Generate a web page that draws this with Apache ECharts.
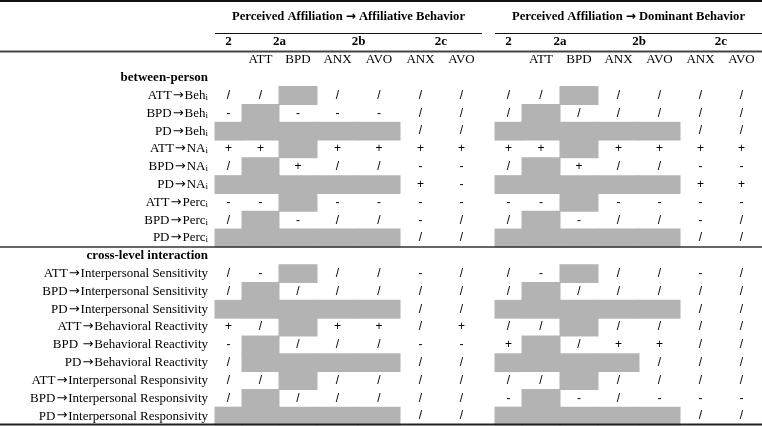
<!DOCTYPE html>
<html><head><meta charset="utf-8">
<script src="https://cdn.jsdelivr.net/npm/echarts@6/dist/echarts.min.js"></script>
<style>html,body{margin:0;padding:0;background:#fff}#c{width:762px;height:426px}</style>
</head><body><div id="c"></div>
<script>
// ---------- data ----------
const titles = ['Perceived Affiliation \u2192 Affiliative Behavior', 'Perceived Affiliation \u2192 Dominant Behavior'];
const hypotheses = ['2', '2a', '2b', '2c'];
const subColumns = ['', 'ATT', 'BPD', 'ANX', 'AVO', 'ANX', 'AVO'];
const sections = ['between-person', 'cross-level interaction'];
const betweenRows = ['ATT\u2192Beh_i', 'BPD\u2192Beh_i', 'PD\u2192Beh_i', 'ATT\u2192NA_i', 'BPD\u2192NA_i', 'PD\u2192NA_i', 'ATT\u2192Perc_i', 'BPD\u2192Perc_i', 'PD\u2192Perc_i'];
const crossRows = ['ATT\u2192Interpersonal Sensitivity', 'BPD\u2192Interpersonal Sensitivity', 'PD\u2192Interpersonal Sensitivity', 'ATT\u2192Behavioral Reactivity', 'BPD \u2192Behavioral Reactivity', 'PD\u2192Behavioral Reactivity', 'ATT\u2192Interpersonal Responsivity', 'BPD\u2192Interpersonal Responsivity', 'PD\u2192Interpersonal Responsivity'];
// G = grey cell (not applicable)
const affiliativeBetween = [
  ['/','/','G','/','/','/','/'],
  ['-','G','-','-','-','/','/'],
  ['G','G','G','G','G','/','/'],
  ['+','+','G','+','+','+','+'],
  ['/','G','+','/','/','-','-'],
  ['G','G','G','G','G','+','-'],
  ['-','-','G','-','-','-','-'],
  ['/','G','-','/','/','-','/'],
  ['G','G','G','G','G','/','/']
];
const dominantBetween = [
  ['/','/','G','/','/','/','/'],
  ['/','G','/','/','/','/','/'],
  ['G','G','G','G','G','/','/'],
  ['+','+','G','+','+','+','+'],
  ['/','G','+','/','/','-','-'],
  ['G','G','G','G','G','+','+'],
  ['-','-','G','-','-','-','-'],
  ['/','G','-','/','/','-','/'],
  ['G','G','G','G','G','/','/']
];
const affiliativeCross = [
  ['/','-','G','/','/','-','/'],
  ['/','G','/','/','/','/','/'],
  ['G','G','G','G','G','/','/'],
  ['+','/','G','+','+','/','+'],
  ['-','G','/','/','/','-','-'],
  ['/','G','G','G','G','/','/'],
  ['/','/','G','/','/','/','/'],
  ['/','G','/','/','/','/','/'],
  ['G','G','G','G','G','/','/']
];
const dominantCross = [
  ['/','-','G','/','/','-','/'],
  ['/','G','/','/','/','/','/'],
  ['G','G','G','G','G','/','/'],
  ['/','/','G','/','/','/','/'],
  ['+','G','/','+','+','/','/'],
  ['G','G','G','G','/','/','/'],
  ['/','/','G','/','/','/','/'],
  ['-','G','-','/','-','-','-'],
  ['G','G','G','G','G','/','/']
];

// ---------- layout ----------
const LAYOUT = {
  colEdges: [[215,242,279,317,358,400,441,482],[495,522,560,598,639,680,721,762]],
  hypSpans: [[0,1],[1,3],[3,5],[5,7]],
  grey: '#b3b3b3',
  serif: '"Liberation Serif", "Times New Roman", serif',
  sans: '"Liberation Sans", Arial, sans-serif',
  arrow: '"DejaVu Sans", sans-serif'
};

const rowCats = ['', sections[0]].concat(betweenRows, [sections[1]], crossRows);
const groups = [[affiliativeBetween, affiliativeCross], [dominantBetween, dominantCross]];

const cellData = [];
groups.forEach((g, gi) => {
  g[0].forEach((row, ri) => row.forEach((s, ci) => cellData.push({value: [gi * 7 + ci, 2 + ri], sym: s})));
  g[1].forEach((row, ri) => row.forEach((s, ci) => cellData.push({value: [gi * 7 + ci, 12 + ri], sym: s})));
});
const subData = [];
[0, 1].forEach(gi => subColumns.forEach((s, ci) => { if (s) subData.push({value: [gi * 7 + ci, 0], sym: s}); }));

function cellBox(api, col, row) {
  const g = Math.floor(col / 7), c = col % 7;
  const E = LAYOUT.colEdges[g];
  const x0 = api.coord([E[c], row])[0];
  const x1 = api.coord([E[c + 1], row])[0];
  const yc = api.coord([E[c], row])[1];
  const h = api.size([0, 1])[1];
  return {x0, x1, yc, h};
}

function renderCell(params, api) {
  const d = cellData[params.dataIndex];
  const b = cellBox(api, api.value(0), api.value(1));
  if (d.sym === 'G') {
    return {type: 'rect', shape: {x: b.x0 - 0.5, y: b.yc - b.h / 2 - 0.5, width: b.x1 - b.x0 + 1, height: b.h + 1},
      style: {fill: LAYOUT.grey}};
  }
  return {type: 'text', x: (b.x0 + b.x1) / 2, y: b.yc,
    style: {text: d.sym, align: 'center', verticalAlign: 'middle', fontSize: 12, fontFamily: LAYOUT.sans, fill: '#000'}};
}
function renderSub(params, api) {
  const d = subData[params.dataIndex];
  const b = cellBox(api, api.value(0), api.value(1));
  return {type: 'text', x: (b.x0 + b.x1) / 2, y: b.yc,
    style: {text: d.sym, align: 'center', verticalAlign: 'middle', fontSize: 13, fontFamily: LAYOUT.serif, fill: '#000'}};
}

// header graphics
const graphics = [];
const hline = (x1, x2, y, w, c) => graphics.push({type: 'line', shape: {x1, y1: y, x2, y2: y}, style: {stroke: c, lineWidth: w}, z: 10});
hline(0, 762, 1, 2, '#111');
hline(0, 762, 51.5, 2, '#444');
hline(0, 762, 247, 1.5, '#333');
hline(0, 762, 424.5, 2, '#222');
const titleRich = {
  t: {fontSize: 12.6, fontWeight: 'bold', fontFamily: LAYOUT.serif, fill: '#000', color: '#000'},
  arr: {fontSize: 12, fontWeight: 'bold', fontFamily: LAYOUT.arrow, fill: '#000', color: '#000'}
};
LAYOUT.colEdges.forEach((E, gi) => {
  const parts = titles[gi].split(' \u2192 ');
  graphics.push({type: 'text', x: (E[0] + E[7]) / 2, y: 17,
    style: {text: '{t|' + parts[0] + ' }{arr|\u2192}{t| ' + parts[1] + '}', rich: titleRich,
      align: 'center', verticalAlign: 'middle', fontSize: 12.6, fontWeight: 'bold', fontFamily: LAYOUT.serif, fill: '#000'}});
  hline(E[0], E[7], 33.5, 1, '#111');
  hypotheses.forEach((h, hi) => {
    const sp = LAYOUT.hypSpans[hi];
    graphics.push({type: 'text', x: (E[sp[0]] + E[sp[1]]) / 2, y: 42,
      style: {text: h, align: 'center', verticalAlign: 'middle', fontSize: 13, fontWeight: 'bold', fontFamily: LAYOUT.serif, fill: '#000'}});
  });
});

function fmtLabel(v) {
  if (sections.indexOf(v) >= 0) return '{b|' + v + '}';
  let s = v.endsWith('_i') ? v.slice(0, -2) : v;
  const sub = v.endsWith('_i') ? '{sub|i}' : '';
  const k = s.indexOf('\u2192');
  if (k >= 0) s = '{t|' + s.slice(0, k) + '}{arr|\u2192}{t|' + s.slice(k + 1) + '}';
  return s + sub;
}

const chart = echarts.init(document.getElementById('c'), null, {renderer: 'canvas'});
chart.setOption({
  animation: false,
  backgroundColor: '#fff',
  grid: {left: 215, right: 0, top: 51, height: 374},
  xAxis: {type: 'value', min: 215, max: 762, show: false},
  yAxis: {
    type: 'category', inverse: true, data: rowCats,
    axisLine: {show: false}, axisTick: {show: false}, splitLine: {show: false},
    axisLabel: {
      margin: 7, color: '#000', fontSize: 13, fontFamily: LAYOUT.serif, interval: 0,
      formatter: fmtLabel,
      rich: {
        t: {fontSize: 13, fontFamily: LAYOUT.serif, color: '#000'},
        arr: {fontSize: 13, fontFamily: LAYOUT.arrow, color: '#000', padding: [0, 1, 0, 1]},
        b: {fontWeight: 'bold', fontSize: 13, fontFamily: LAYOUT.serif, color: '#000'},
        sub: {fontSize: 9, fontFamily: LAYOUT.serif, color: '#000', verticalAlign: 'bottom', padding: [4, 0, 0, 0]}
      }
    }
  },
  graphic: graphics,
  series: [
    {type: 'custom', renderItem: renderCell, data: cellData, encode: {x: 0, y: 1}, silent: true},
    {type: 'custom', renderItem: renderSub, data: subData, encode: {x: 0, y: 1}, silent: true}
  ]
});
</script></body></html>
